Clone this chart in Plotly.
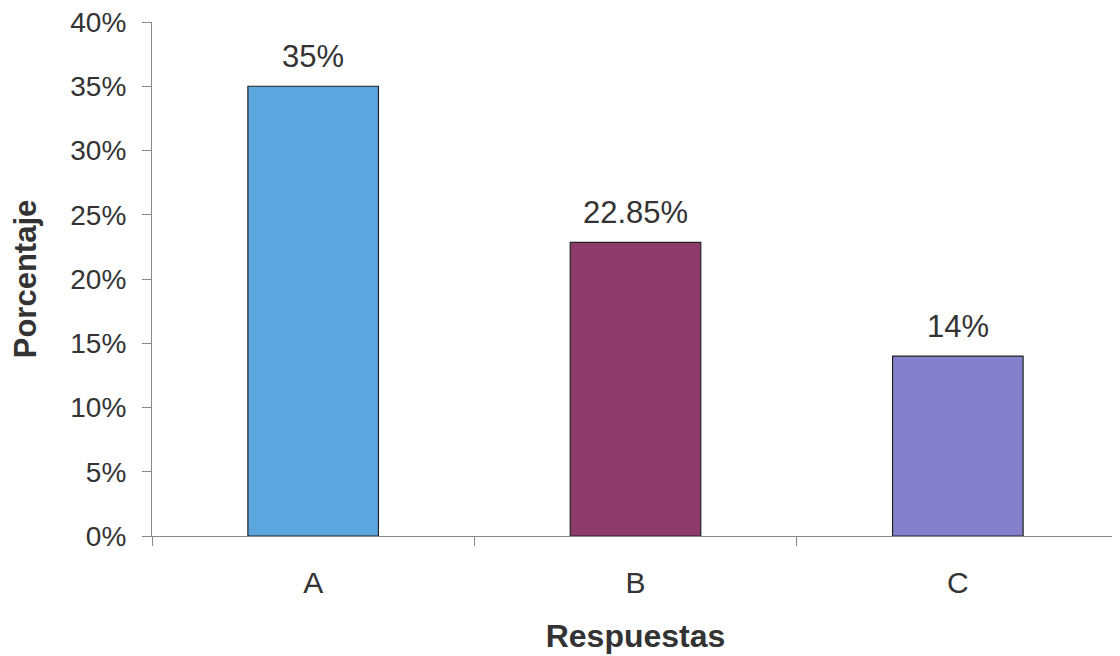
import plotly.graph_objects as go

categories = ["A", "B", "C"]
values = [0.35, 0.2285, 0.14]
value_labels = ["35%", "22.85%", "14%"]
bar_colors = ["#5BA6DE", "#8E3A6A", "#8480CC"]
y_tick_vals = [0, 0.05, 0.10, 0.15, 0.20, 0.25, 0.30, 0.35, 0.40]
y_tick_text = ["0%", "5%", "10%", "15%", "20%", "25%", "30%", "35%", "40%"]

FONT = "Liberation Sans, Arial, sans-serif"
TXT = "#333333"

fig = go.Figure()
fig.add_trace(go.Bar(
    x=categories, y=values,
    marker=dict(color=bar_colors, line=dict(color="#222222", width=1.2)),
    width=0.405,
    hoverinfo="skip",
))

for c, v, t in zip(categories, values, value_labels):
    fig.add_annotation(x=c, y=v, text=t, showarrow=False, yanchor="bottom",
                       yshift=10, font=dict(family=FONT, size=31, color=TXT))

# page body has an 8px default margin; margins compensate so plot sits where the reference has it
fig.update_layout(
    width=1120, height=656,
    margin=dict(l=144, r=9, t=14, b=128),
    paper_bgcolor="white", plot_bgcolor="white",
    showlegend=False,
    font=dict(family=FONT, color=TXT),
    xaxis=dict(
        range=[-0.5, 2.5], showline=True, linecolor="#888888", linewidth=1.2,
        ticks="outside", tickson="boundaries", ticklen=9, tickcolor="#888888",
        tickfont=dict(family=FONT, size=30, color=TXT),
        ticklabelstandoff=20, automargin=False,
        showgrid=False, zeroline=False,
        title=dict(text="<b>Respuestas</b>", font=dict(family=FONT, size=32, color=TXT), standoff=26),
    ),
    yaxis=dict(
        range=[0, 0.40], tickvals=y_tick_vals, ticktext=y_tick_text,
        showline=True, linecolor="#888888", linewidth=1.2,
        ticks="outside", ticklen=9, tickcolor="#888888",
        tickfont=dict(family=FONT, size=28, color=TXT),
        ticklabelstandoff=10, automargin=False, ticklabeloverflow="allow",
        showgrid=False, zeroline=False,
        title=dict(text="<b>Porcentaje</b>", font=dict(family=FONT, size=31, color=TXT), standoff=26),
    ),
)

fig.write_html("out.html")
